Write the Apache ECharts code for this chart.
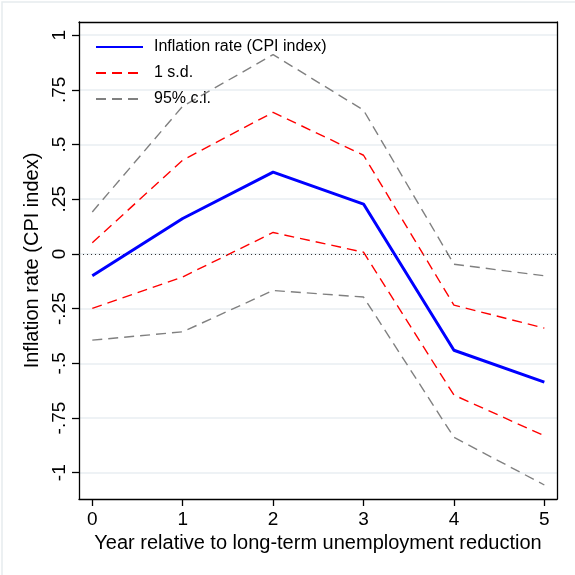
<!DOCTYPE html>
<html><head><meta charset="utf-8">
<script src="https://cdn.jsdelivr.net/npm/echarts@6/dist/echarts.min.js"></script>
<style>html,body{margin:0;padding:0;background:#fff}#c{width:575px;height:575px}</style>
</head><body><div id="c"></div>
<script>
var years = [0, 1, 2, 3, 4, 5];
var estimate = [-0.10, 0.162, 0.374, 0.228, -0.44, -0.586];
var sdUpper = [0.051, 0.429, 0.647, 0.451, -0.234, -0.339];
var sdLower = [-0.249, -0.105, 0.098, 0.008, -0.645, -0.831];
var ciUpper = [0.192, 0.675, 0.911, 0.657, -0.047, -0.10];
var ciLower = [-0.394, -0.356, -0.167, -0.197, -0.838, -1.056];
var yTicks = [-1, -0.75, -0.5, -0.25, 0, 0.25, 0.5, 0.75, 1];
var xTicks = [0, 1, 2, 3, 4, 5];

function pairs(v){ return years.map(function(x,i){return [x, v[i]];}); }
function fmt(v){
  if (v === 0) return '0';
  if (Math.abs(v) === 1) return String(v);
  return String(v).replace('0.', '.');
}
var font = 'Liberation Sans, Arial, Helvetica, sans-serif';
var chart = echarts.init(document.getElementById('c'), null, {renderer:'canvas'});
var dash = [10, 6];
var boxLine = {show:true, onZero:false, lineStyle:{color:'#000', width:1.3}};
var bareAxis = {axisTick:{show:false}, axisLabel:{show:false}, splitLine:{show:false}};
chart.setOption({
  animation: false,
  backgroundColor: '#fff',
  graphic: [{type:'rect', shape:{x:2,y:2,width:580,height:580}, style:{fill:'none', stroke:'#e6ecee', lineWidth:1.5}, z:-10}],
  grid: {left:79, right:18, top:22, bottom:76, show:false},
  legend: {
    orient:'vertical', left:95, top:39, padding:0, itemWidth:47, itemHeight:14, itemGap:10,
    itemStyle:{opacity:0, borderWidth:0},
    textStyle:{fontFamily:font, fontSize:16, color:'#000', padding:[0,0,0,6]},
    data:['Inflation rate (CPI index)','1 s.d.','95% c.i.']
  },
  xAxis: [{
    type:'value', min:-0.147, max:5.14, position:'bottom',
    name:'Year relative to long-term unemployment reduction', nameLocation:'middle', nameGap:31,
    nameTextStyle:{fontFamily:font, fontSize:20, color:'#000'},
    axisLine:boxLine,
    axisTick:{show:true, inside:false, length:7, customValues:xTicks, lineStyle:{color:'#000', width:1.3}},
    axisLabel:{customValues:xTicks, fontFamily:font, fontSize:19, color:'#000', margin:11, formatter:function(v){return String(v);}},
    splitLine:{show:false}
  }, Object.assign({type:'value', min:-0.147, max:5.14, position:'top', axisLine:boxLine}, bareAxis)],
  yAxis: [{
    type:'value', min:-1.12, max:1.06, position:'left',
    name:'Inflation rate (CPI index)', nameLocation:'middle', nameGap:30, nameRotate:90,
    nameTextStyle:{fontFamily:font, fontSize:20, color:'#000'},
    axisLine:boxLine,
    axisTick:{show:true, inside:false, length:7, customValues:yTicks, lineStyle:{color:'#000', width:1.3}},
    axisLabel:{customValues:yTicks, rotate:90, fontFamily:font, fontSize:19, color:'#000', margin:10, formatter:fmt},
    splitLine:{show:true, lineStyle:{color:'#e8eef2', width:1.5}}
  }, Object.assign({type:'value', min:-1.12, max:1.06, position:'right', axisLine:boxLine}, bareAxis)],
  series: [
    {name:'Inflation rate (CPI index)', type:'line', data:pairs(estimate), symbol:'none', z:5,
     lineStyle:{color:'#0000ff', width:3}, itemStyle:{color:'#0000ff'},
     markLine:{silent:true, symbol:'none', label:{show:false}, lineStyle:{color:'#333', type:[1,3], width:1}, data:[{yAxis:0}]}},
    {name:'1 s.d.', type:'line', data:pairs(sdUpper), symbol:'none', lineStyle:{color:'#ff0000', width:1.4, type:dash}, itemStyle:{color:'#ff0000'}},
    {name:'1 s.d.', type:'line', data:pairs(sdLower), symbol:'none', lineStyle:{color:'#ff0000', width:1.4, type:dash}, itemStyle:{color:'#ff0000'}},
    {name:'95% c.i.', type:'line', data:pairs(ciUpper), symbol:'none', lineStyle:{color:'#808080', width:1.4, type:dash}, itemStyle:{color:'#808080'}},
    {name:'95% c.i.', type:'line', data:pairs(ciLower), symbol:'none', lineStyle:{color:'#808080', width:1.4, type:dash}, itemStyle:{color:'#808080'}}
  ]
});
</script></body></html>
